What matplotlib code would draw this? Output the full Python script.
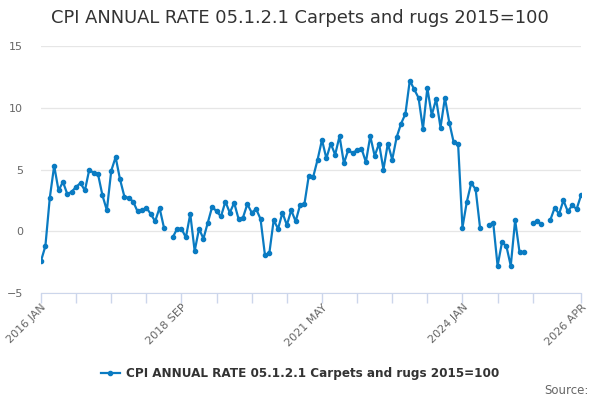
import numpy as np
import matplotlib
matplotlib.use('Agg')
import matplotlib.pyplot as plt
from matplotlib.lines import Line2D

# Monthly CPI annual rate, 2016 JAN .. 2026 APR (None = no value)
values = [
    -2.4, -1.2, 2.7, 5.3, 3.3, 4.0, 3.0, 3.2, 3.6, 3.9, 3.3, 5.0,
    4.7, 4.6, 2.9, 1.7, 4.9, 6.0, 4.2, 2.8, 2.7, 2.4, 1.6, 1.7,
    1.9, 1.4, 0.8, 1.9, 0.3, None, -0.5, 0.2, 0.2, -0.5, 1.4, -1.6,
    0.2, -0.6, 0.7, 2.0, 1.6, 1.2, 2.4, 1.5, 2.3, 1.0, 1.1, 2.2,
    1.5, 1.8, 1.0, -1.9, -1.8, 0.9, 0.2, 1.5, 0.5, 1.7, 0.8, 2.1,
    2.2, 4.5, 4.4, 5.8, 7.4, 5.9, 7.1, 6.2, 7.7, 5.5, 6.6, 6.3,
    6.6, 6.7, 5.6, 7.7, 6.1, 7.1, 5.0, 7.1, 5.8, 7.6, 8.7, 9.5,
    12.2, 11.5, 10.8, 8.3, 11.6, 9.4, 10.7, 8.4, 10.8, 8.8, 7.2, 7.1,
    0.3, 2.4, 3.9, 3.4, 0.3, None, 0.5, 0.7, -2.8, -0.9, -1.2, -2.8,
    0.9, -1.7, -1.7, None, 0.7, 0.8, 0.6, None, 0.9, 1.9, 1.4, 2.5,
    1.6, 2.1, 1.8, 2.9,
]
tick_pos = [0, 8, 16, 24, 32, 40, 48, 56, 64, 72, 80, 88, 96, 104, 112, 123]
label_pos = [0, 32, 64, 96, 123]
label_txt = ['2016 JAN', '2018 SEP', '2021 MAY', '2024 JAN', '2026 APR']
title = 'CPI ANNUAL RATE 05.1.2.1 Carpets and rugs 2015=100'

y = np.array([np.nan if v is None else v for v in values], dtype=float)
x = np.arange(len(y))

color = '#0a7bc2'
fig = plt.figure(figsize=(6, 4), dpi=100)
ax = fig.add_axes([41/600, 107/400, 540/600, 247/400])

ax.plot(x, y, '-o', color=color, linewidth=1.6, markersize=3)

ax.set_xlim(0, len(y) - 1)
ax.set_ylim(-5, 15)
ax.set_yticks([-5, 0, 5, 10, 15])
ax.grid(axis='y', color='#e6e6e6', linewidth=0.9)
ax.set_axisbelow(True)
for s in ['top', 'right', 'left']:
    ax.spines[s].set_visible(False)
ax.spines['bottom'].set_color('#ccd6eb')
ax.tick_params(axis='y', length=0, pad=13, labelsize=8, labelcolor='#666666')

ax.set_xticks(tick_pos)
ax.set_xticklabels(['' for _ in tick_pos])
ax.tick_params(axis='x', length=7, color='#ccd6eb', width=1)
for p, t in zip(label_pos, label_txt):
    ax.text(p, -5.75, t, rotation=45, ha='right', va='top', rotation_mode='anchor',
            fontsize=8, color='#666666', transform=ax.transData)

fig.text(0.5, 1 - 18/400, title, ha='center', va='center', fontsize=12.9, color='#333333')

handle = Line2D([], [], color=color, marker='o', markersize=3, linewidth=1.6)
leg = fig.legend([handle], [title], loc='center', bbox_to_anchor=(0.5, 1 - 374/400),
                 frameon=False, handlelength=1.6, handletextpad=0.5,
                 prop={'size': 8.65, 'weight': 'bold'})
for t in leg.get_texts():
    t.set_color('#333333')

fig.text(589/600, 1 - 390/400, 'Source:', ha='right', va='center', fontsize=8.5, color='#666666')

plt.savefig('out.png', dpi=100)
